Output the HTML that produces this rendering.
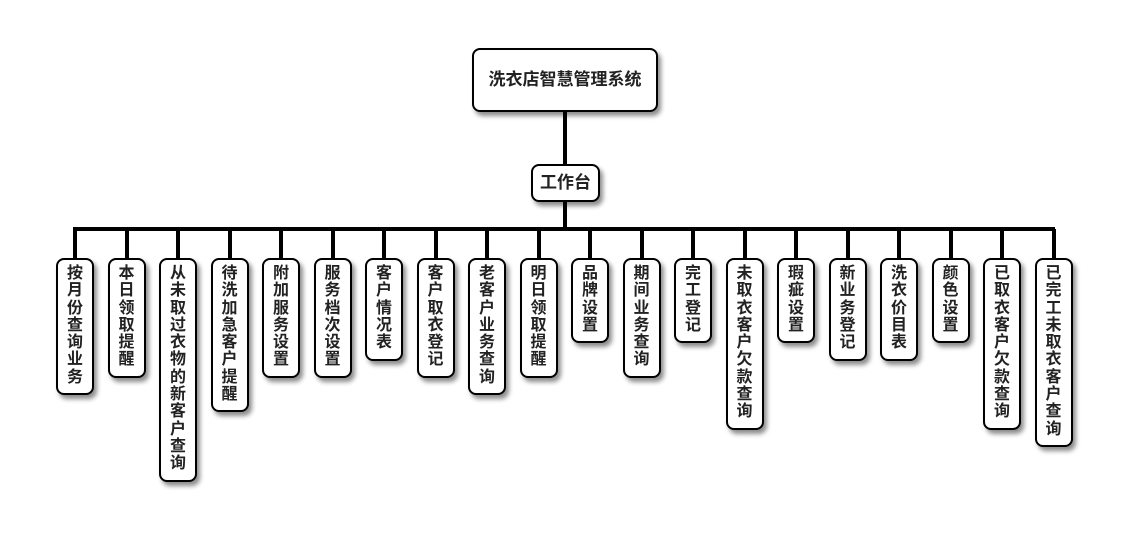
<!DOCTYPE html>
<html><head><meta charset="utf-8"><style>
body{margin:0;width:1130px;height:560px;background:#fff;position:relative;overflow:hidden;font-family:"Liberation Sans","Noto Sans CJK SC",sans-serif;font-weight:bold;color:#222}
.b{position:absolute;background:#fff;border:2px solid #000;border-radius:8px;box-sizing:border-box;box-shadow:3px 4px 5px rgba(0,0,0,.45);text-align:center}
.l{position:absolute;background:#000}
.leaf{width:38px;top:258px;font-size:16px;line-height:17.3px;padding-top:6px;writing-mode:vertical-rl;text-orientation:upright;display:flex;justify-content:flex-start;align-items:center}
.leaf span{writing-mode:horizontal-tb;width:17px;word-break:break-all;display:block}
</style></head><body>
<div class="l" style="left:563px;top:112px;width:4px;height:52px"></div>
<div class="l" style="left:563px;top:201px;width:4px;height:29px"></div>
<div class="l" style="left:73px;top:227px;width:982px;height:4px"></div>
<div class="b" style="left:472px;top:48px;width:186px;height:64px;line-height:60px;font-size:17px">洗衣店智慧管理系统</div>
<div class="b" style="left:531px;top:164px;width:69px;height:38px;line-height:34px;font-size:17px">工作台</div>
<div id="c"></div>
<script>
var t=["按月份查询业务","本日领取提醒","从未取过衣物的新客户查询","待洗加急客户提醒","附加服务设置","服务档次设置","客户情况表","客户取衣登记","老客户业务查询","明日领取提醒","品牌设置","期间业务查询","完工登记","未取衣客户欠款查询","瑕疵设置","新业务登记","洗衣价目表","颜色设置","已取衣客户欠款查询","已完工未取衣客户查询"];
var h="";
for(var i=0;i<t.length;i++){var cx=75+i*51.5;var n=t[i].length;
h+='<div class="l" style="left:'+(cx-2)+'px;top:229px;width:4px;height:30px"></div>';
h+='<div class="b" style="left:'+(cx-19)+'px;top:258px;width:38px;height:'+(16+17.3*n)+'px;font-size:16px;line-height:17.3px;padding-top:5px"><div style="width:17px;margin:0 auto;word-break:break-all">'+t[i]+'</div></div>';}
document.getElementById("c").innerHTML=h;
</script>
</body></html>
